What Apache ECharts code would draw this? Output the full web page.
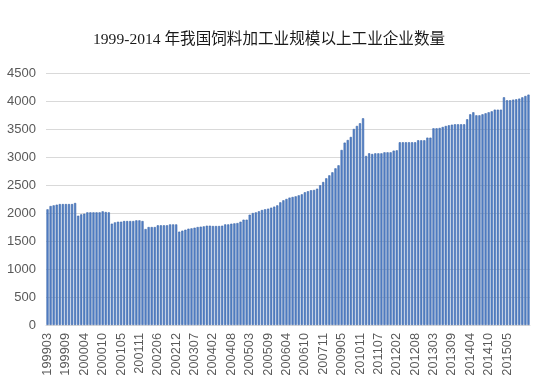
<!DOCTYPE html>
<html>
<head>
<meta charset="utf-8">
<script src="https://cdn.jsdelivr.net/npm/echarts@6/dist/echarts.min.js"></script>
<style>
html,body{margin:0;padding:0;background:#fff;}
#chart{width:537px;height:391px;}
</style>
</head>
<body>
<div id="chart"></div>
<script>
var titleText = '1999-2014 年我国饲料加工业规模以上工业企业数量';

var categories = [
  '199903','199904','199905','199906','199907','199908','199909','199910','199911','199912',
  '200002','200003','200004','200005','200006','200007','200008','200009','200010','200011','200012',
  '200102','200103','200104','200105','200106','200107','200108','200109','200110','200111','200112',
  '200202','200203','200204','200205','200206','200207','200208','200209','200210','200211','200212',
  '200302','200303','200304','200305','200306','200307','200308','200309','200310','200311','200312',
  '200402','200403','200404','200405','200406','200407','200408','200409','200410','200411','200412',
  '200502','200503','200504','200505','200506','200507','200508','200509','200510','200511','200512',
  '200602','200603','200604','200605','200606','200607','200608','200609','200610','200611','200612',
  '200702','200705','200708','200711','200712',
  '200802','200805','200808','200812',
  '200905','200908','200912','201002','201005','201008','201011','201012',
  '201102','201103','201104','201105','201107','201108','201109','201110','201111','201112',
  '201202','201203','201204','201205','201206','201207','201208','201209','201210','201211','201212',
  '201302','201303','201304','201305','201306','201307','201308','201309','201310','201311','201312',
  '201402','201403','201404','201405','201406','201407','201408','201409','201410','201411','201412',
  '201502','201503','201504','201505','201506','201507','201508','201509','201510','201511','201512'
];

var counts = [
  2066,2125,2137,2149,2160,2160,2160,2160,2160,2179,
  1952,1976,1988,2012,2012,2012,2012,2012,2030,2018,2012,
  1810,1833,1845,1845,1857,1857,1857,1857,1869,1869,1857,
  1714,1750,1750,1750,1780,1780,1780,1780,1797,1797,1797,
  1667,1685,1702,1720,1726,1738,1750,1756,1762,1774,1774,
  1768,1768,1768,1774,1797,1797,1809,1815,1821,1845,1881,
  1881,1970,2000,2012,2030,2054,2066,2078,2096,2114,2137,
  2191,2227,2251,2275,2287,2298,2316,2334,2370,2388,2406,
  2412,2435,2495,2554,2620,
  2673,2727,2798,2852,
  3126,3257,3304,3358,3501,3555,3602,3691,
  3019,3066,3054,3066,3066,3066,3084,3084,3084,3114,
  3120,3263,3263,3263,3263,3263,3263,3299,3299,3299,3346,
  3346,3513,3513,3519,3537,3555,3566,3578,3584,3584,3584,
  3584,3674,3763,3799,3745,3745,3763,3781,3799,3816,3846,
  3846,3846,4066,4013,4013,4025,4031,4043,4066,4090,4114
];

var yMin = 0, yMax = 4500, yStep = 500;
var labelEvery = 6, lastLabelIndex = 150;

var chart = echarts.init(document.getElementById('chart'), null, {renderer: 'canvas'});
chart.setOption({
  animation: false,
  backgroundColor: '#ffffff',
  title: {
    text: titleText,
    left: 88,
    top: 27,
    textStyle: {
      fontFamily: "'Liberation Serif', 'Noto Sans CJK SC', serif",
      fontSize: 15.6,
      fontWeight: 'normal',
      color: '#1a1a1a'
    }
  },
  grid: {left: 46, right: 7, top: 73, bottom: 66, containLabel: false},
  xAxis: {
    type: 'category',
    data: categories,
    axisLine: {show: true, lineStyle: {color: '#d9d9d9', width: 1}},
    axisTick: {show: false},
    axisLabel: {
      interval: function (i) { return i % labelEvery === 0 && i <= lastLabelIndex; },
      rotate: 90,
      margin: 8,
      color: '#595959',
      fontSize: 12.8,
      fontFamily: "'Liberation Sans', Arial, sans-serif"
    }
  },
  yAxis: {
    type: 'value',
    min: yMin,
    max: yMax,
    interval: yStep,
    axisLine: {show: false},
    axisTick: {show: false},
    splitLine: {lineStyle: {color: '#d9d9d9', width: 1}},
    axisLabel: {
      margin: 10,
      color: '#595959',
      fontSize: 13,
      fontFamily: "'Liberation Sans', Arial, sans-serif",
      formatter: function (v) { return String(v); }
    }
  },
  series: [{
    type: 'bar',
    data: counts,
    barCategoryGap: '28%',
    itemStyle: {color: '#5482c8', borderColor: '#3e68aa', borderWidth: 0.6}
  }]
});
</script>
</body>
</html>
